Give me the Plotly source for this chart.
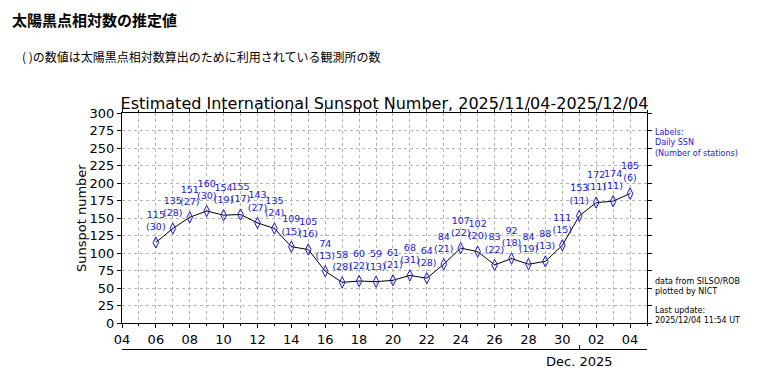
import plotly.graph_objects as go

dates = ["2025-11-06", "2025-11-07", "2025-11-08", "2025-11-09", "2025-11-10",
         "2025-11-11", "2025-11-12", "2025-11-13", "2025-11-14", "2025-11-15",
         "2025-11-16", "2025-11-17", "2025-11-18", "2025-11-19", "2025-11-20",
         "2025-11-21", "2025-11-22", "2025-11-23", "2025-11-24", "2025-11-25",
         "2025-11-26", "2025-11-27", "2025-11-28", "2025-11-29", "2025-11-30",
         "2025-12-01", "2025-12-02", "2025-12-03", "2025-12-04"]
ssn = [115, 135, 151, 160, 154, 155, 143, 135, 109, 105, 74, 58, 60, 59, 61,
       68, 64, 84, 107, 102, 83, 92, 84, 88, 111, 153, 172, 174, 185]
stations = [30, 28, 27, 30, 19, 17, 27, 24, 15, 16, 13, 28, 22, 13, 21,
            31, 28, 21, 22, 20, 22, 18, 19, 13, 15, 11, 11, 11, 6]
y_ticks = list(range(0, 301, 25))

labels = [f"{v}<br>({n})" for v, n in zip(ssn, stations)]
FONT = "DejaVu Sans"
BLUE = "#1a1ad0"
GRID = "#b4b4b4"

# page body has an 8px margin: figure drawn at (8, 8)
OFF = 8
W, H = 760 - OFF, 373 - OFF
L, R, T, B = 122 - OFF, 760 - 647, 113 - OFF, 373 - 349
PW, PH = W - L - R, H - T - B

fig = go.Figure()
fig.add_trace(go.Scatter(
    x=dates, y=ssn, mode="lines+markers",
    line=dict(color="black", width=1),
    marker=dict(symbol="diamond-tall-open", size=8, color=BLUE, line=dict(width=1)),
    hoverinfo="x+y", showlegend=False,
))
# labels: invisible larger marker to lift the text above the point
fig.add_trace(go.Scatter(
    x=dates, y=ssn, mode="markers+text",
    marker=dict(size=14, opacity=0),
    text=labels, textposition="top center",
    textfont=dict(family=FONT, size=9.5, color=BLUE),
    hoverinfo="skip", showlegend=False,
))
fig.add_trace(go.Scatter(x=[dates[0]], y=[None], xaxis="x2", yaxis="y",
                         showlegend=False, hoverinfo="skip"))

fig.update_layout(
    width=W, height=H,
    margin=dict(l=L, r=R, t=T, b=B, autoexpand=False),
    paper_bgcolor="white", plot_bgcolor="white",
    font=dict(family=FONT, size=13, color="black"),
    xaxis=dict(
        range=["2025-11-04", "2025-12-05"], type="date", automargin=False,
        tick0="2025-11-04", dtick=2 * 86400000, tickformat="%d",
        ticks="outside", ticklen=4, tickcolor="black",
        showline=True, linecolor="black", linewidth=1, mirror="ticks",
        showgrid=True, gridcolor=GRID, griddash="dot", gridwidth=1,
        minor=dict(dtick=86400000, showgrid=True, gridcolor=GRID,
                   griddash="dot", ticks="outside", ticklen=2, tickcolor="black"),
        tickfont=dict(size=13), anchor="y", zeroline=False,
    ),
    xaxis2=dict(
        range=["2025-11-04", "2025-12-05"], type="date", overlaying="x",
        anchor="free", position=0, side="bottom", automargin=False,
        tickvals=["2025-12-01"], ticktext=["Dec. 2025"],
        ticks="inside", ticklen=4, tickcolor="black",
        showline=True, linecolor="black", linewidth=1,
        showgrid=False, tickfont=dict(size=13), zeroline=False,
    ),
    yaxis=dict(
        range=[0, 300], domain=[(349 - 323) / PH, 1], tickvals=y_ticks, automargin=False,
        ticks="outside", ticklen=4, tickcolor="black",
        showline=True, linecolor="black", linewidth=1, mirror="ticks",
        showgrid=True, gridcolor=GRID, griddash="dot", gridwidth=1,
        tickfont=dict(size=13), zeroline=False,
    ),
    title=dict(text="Estimated International Sunspot Number, 2025/11/04-2025/12/04",
               x=0.5, xref="paper", xanchor="center", y=1 - (103 - OFF) / H,
               yanchor="middle", font=dict(size=16, family=FONT), automargin=False),
)

annots = [
    dict(text="<b>太陽黒点相対数の推定値</b>", x=10, y=20, size=15, color="black",
         fam="Noto Sans CJK JP"),
    dict(text="( )の数値は太陽黒点相対数算出のために利用されている観測所の数", x=20, y=57,
         size=12, color="black", fam="Noto Sans CJK JP"),
    dict(text="Labels:<br>Daily SSN<br>(Number of stations)", x=653, y=143,
         size=8, color=BLUE, fam=FONT),
    dict(text="data from SILSO/ROB<br>plotted by NICT", x=653, y=286,
         size=8, color="black", fam=FONT),
    dict(text="Last update:<br>2025/12/04 11:54 UT", x=653, y=315,
         size=8, color="black", fam=FONT),
]
for a in annots:
    fig.add_annotation(
        text=a["text"], xref="paper", yref="paper",
        x=(a["x"] - 122) / PW,
        y=1 - (a["y"] - 113) / PH,
        xanchor="left", yanchor="middle", align="left", showarrow=False,
        font=dict(size=a["size"], color=a["color"], family=a["fam"]),
    )

# y-axis title
fig.add_annotation(
    text="Sunspot number", xref="paper", yref="paper", textangle=-90,
    x=(81 - 122) / PW, y=1 - (218 - 113) / PH, xanchor="center", yanchor="middle",
    showarrow=False, font=dict(size=13, family=FONT, color="black"),
)

fig.write_html("out.html")
